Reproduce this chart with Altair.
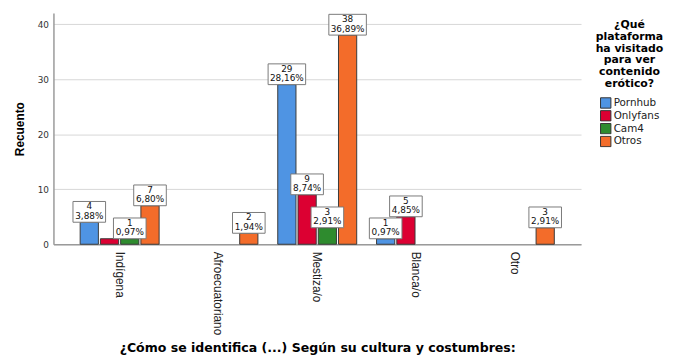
import altair as alt
import pandas as pd

categories = ["Indígena", "Afroecuatoriano", "Mestiza/o", "Blanca/o", "Otro"]
platforms = ["Pornhub", "Onlyfans", "Cam4", "Otros"]
colors = ["#4F94E3", "#DC0032", "#2E8B2E", "#F36C2A"]

# counts per category, in platform order
indigena_counts = [4, 1, 1, 7]
afro_counts = [0, 0, 0, 2]
mestizo_counts = [29, 9, 3, 38]
blanco_counts = [1, 5, 0, 0]
otro_counts = [0, 0, 0, 3]

indigena_pcts = ["3,88%", "0,97%", "0,97%", "6,80%"]
afro_pcts = ["", "", "", "1,94%"]
mestizo_pcts = ["28,16%", "8,74%", "2,91%", "36,89%"]
blanco_pcts = ["0,97%", "4,85%", "", ""]
otro_pcts = ["", "", "", "2,91%"]

# which labels are displayed in the original (one overlapping label is hidden)
indigena_show = [True, False, True, True]
afro_show = [False, False, False, True]
mestizo_show = [True, True, True, True]
blanco_show = [True, True, False, False]
otro_show = [False, False, False, True]

all_counts = [indigena_counts, afro_counts, mestizo_counts, blanco_counts, otro_counts]
all_pcts = [indigena_pcts, afro_pcts, mestizo_pcts, blanco_pcts, otro_pcts]
all_show = [indigena_show, afro_show, mestizo_show, blanco_show, otro_show]

rows = []
for cat, cs, ps, ss in zip(categories, all_counts, all_pcts, all_show):
    for plat, c, p, s in zip(platforms, cs, ps, ss):
        if c > 0:
            rows.append({"cat": cat, "plat": plat, "count": c, "pct": p,
                         "label": f"{c}\n{p}", "show": s, "wide": len(p) > 5})
df = pd.DataFrame(rows)

x_enc = alt.X("cat:N", sort=categories,
              scale=alt.Scale(domain=categories, paddingOuter=0.17, paddingInner=0),
              axis=alt.Axis(labelAngle=90, ticks=False, labelFont="Liberation Sans",
                            labelFontSize=12, labelColor="#222", labelPadding=7,
                            title="¿Cómo se identifica (...) Según su cultura y costumbres:",
                            titleFont="DejaVu Sans", titleFontSize=12.7, titleFontWeight="bold",
                            titleColor="#000", titleY=112, titleBaseline="bottom",
                            domainColor="#9a9a9a", domainWidth=1.5, grid=False))
xo_enc = alt.XOffset("plat:N", sort=platforms,
                     scale=alt.Scale(domain=platforms, paddingInner=0.1, paddingOuter=0.49))
y_enc = alt.Y("count:Q", stack=None,
              scale=alt.Scale(domain=[0, 42], nice=False, zero=True),
              axis=alt.Axis(values=[0, 10, 20, 30, 40], ticks=False, labelFont="DejaVu Sans",
                            labelFontSize=9, labelColor="#333", labelPadding=5,
                            title="Recuento", titleFont="Liberation Sans", titleFontSize=12,
                            titleFontWeight="bold", titleColor="#000", titleX=-30, titleY=117,
                            titleAngle=-90, titleAlign="center", titleBaseline="alphabetic",
                            gridColor="#d6d6d6", gridWidth=1, domainColor="#9a9a9a",
                            domainWidth=1.5))

base = alt.Chart(df)

bars = base.mark_bar(stroke="#3a3a3a", strokeWidth=1).encode(
    x=x_enc, xOffset=xo_enc, y=y_enc,
    color=alt.Color("plat:N", sort=platforms,
                    scale=alt.Scale(domain=platforms, range=colors),
                    legend=alt.Legend(orient="none", legendX=549, legendY=6,
                                      title=["¿Qué", "plataforma", "ha visitado", "para ver",
                                             "contenido", "erótico?"],
                                      titleFont="DejaVu Sans", titleFontSize=11,
                                      titleFontWeight="bold", titleColor="#000",
                                      titleLineHeight=12, titleAnchor="middle",
                                      titleAlign="center", titlePadding=8,
                                      labelFont="DejaVu Sans", labelFontSize=10.5,
                                      labelColor="#222", labelOffset=2,
                                      symbolType="square", symbolSize=110,
                                      symbolStrokeColor="#333", symbolStrokeWidth=1,
                                      clipHeight=12, rowPadding=1)),
)

narrow_boxes = base.transform_filter("datum.show && !datum.wide").mark_bar(
    width=33, fill="white", stroke="#7a7a7a", strokeWidth=1, y2Offset=-21
).encode(x=x_enc, xOffset=xo_enc, y=y_enc, y2="count:Q")

wide_boxes = base.transform_filter("datum.show && datum.wide").mark_bar(
    width=38, fill="white", stroke="#7a7a7a", strokeWidth=1, y2Offset=-21
).encode(x=x_enc, xOffset=xo_enc, y=y_enc, y2="count:Q")

texts = base.transform_filter("datum.show").mark_text(
    font="DejaVu Sans", fontSize=9, lineBreak="\n", lineHeight=9.5,
    baseline="top", align="center", dy=-20, color="#111"
).encode(x=x_enc, xOffset=xo_enc, y=y_enc, text="label:N")

chart = alt.layer(bars, narrow_boxes, wide_boxes, texts).properties(
    width=534, height=234,
    autosize=alt.AutoSizeParams(type="none"),
    padding={"left": 46, "top": 3, "right": 85, "bottom": 112},
    background="white",
).configure_view(stroke=None)

chart.save("out.html", embed_options={"renderer": "svg", "actions": False})
